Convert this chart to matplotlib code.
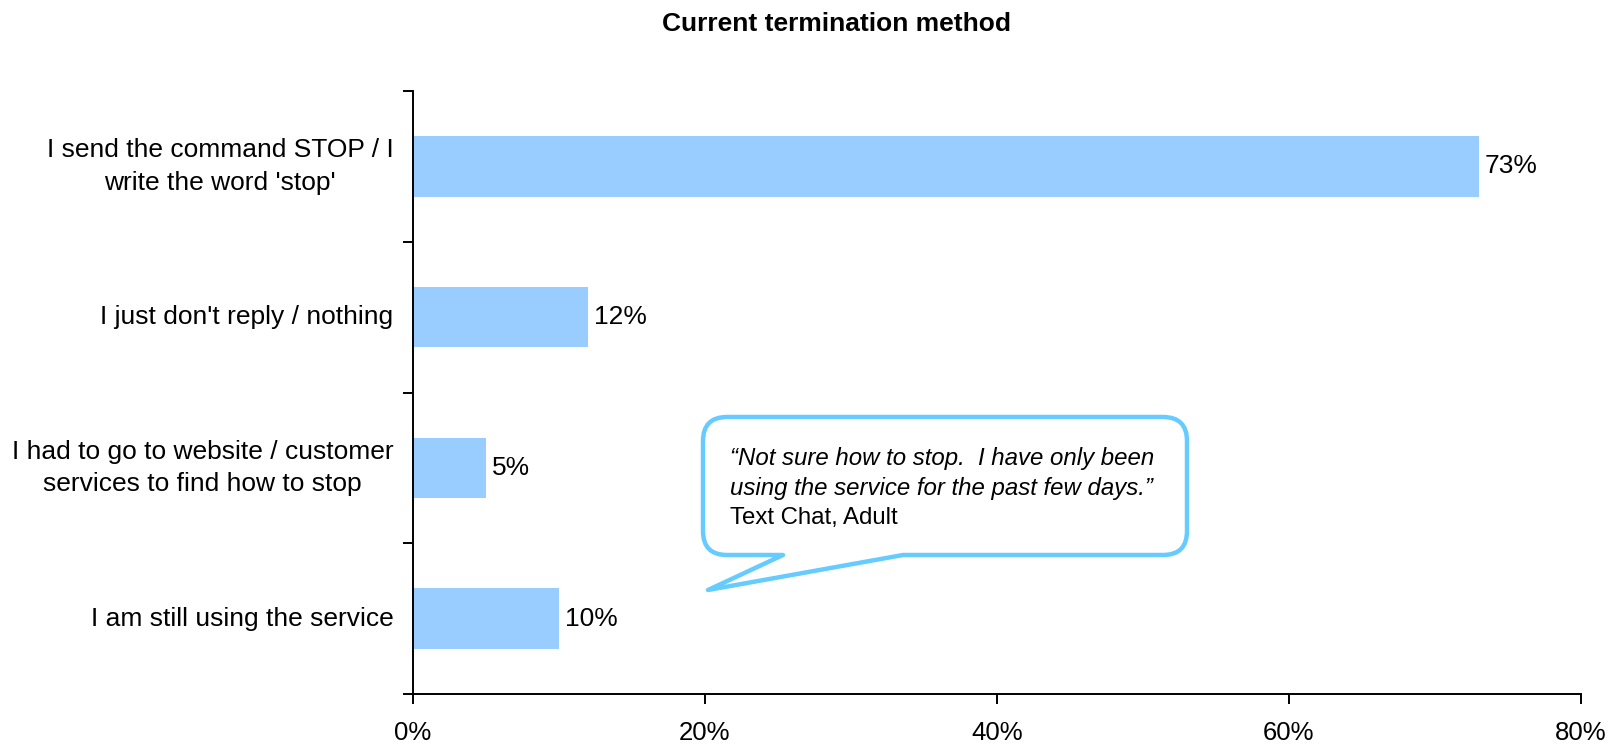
import matplotlib
matplotlib.use("Agg")
import matplotlib.pyplot as plt
from matplotlib.path import Path
from matplotlib.patches import PathPatch
from matplotlib.ticker import FixedLocator, PercentFormatter

plt.rcParams['font.family'] = ['Liberation Sans', 'DejaVu Sans']

title = "Current termination method"
categories = [
    "I send the command STOP / I\nwrite the word 'stop'",
    "I just don't reply / nothing",
    "I had to go to website / customer\nservices to find how to stop",
    "I am still using the service",
]
values = [0.73, 0.12, 0.05, 0.10]
value_labels = ["73%", "12%", "5%", "10%"]
x_ticks = [0.0, 0.2, 0.4, 0.6, 0.8]
quote_lines = ["\u201cNot sure how to stop.  I have only been",
               "using the service for the past few days.\u201d"]
quote_source = "Text Chat, Adult"

W, H = 1609, 745
fig = plt.figure(figsize=(W / 100, H / 100), dpi=100)
ax = fig.add_axes([413 / W, 1 - 694 / H, (1581 - 413) / W, (694 - 91) / H])

n = len(categories)
ypos = list(range(n))
ax.barh(ypos, values, height=0.4, color='#99CCFF', edgecolor='none', zorder=2)
ax.set_ylim(n - 0.5, -0.5)
ax.set_xlim(0, 0.8)

for y, v, lab in zip(ypos, values, value_labels):
    ax.annotate(lab, (v, y), xytext=(4, 0), textcoords='offset points',
                va='center', ha='left', fontsize=19)

# y ticks at category boundaries, labels at centres
ax.yaxis.set_major_locator(FixedLocator([i - 0.5 for i in range(n + 1)]))
ax.set_yticklabels([])
ax.yaxis.set_minor_locator(FixedLocator(ypos))
ax.set_yticklabels(categories, minor=True, fontsize=19, multialignment='center',
                   linespacing=1.45)
for lbl in ax.get_yticklabels(minor=True):
    lbl.set_verticalalignment('center')
ax.tick_params(axis='y', which='minor', length=0, pad=14)
ax.tick_params(axis='y', which='major', length=7, width=1.4, direction='out')

ax.xaxis.set_major_locator(FixedLocator(x_ticks))
ax.xaxis.set_major_formatter(PercentFormatter(1.0, decimals=0))
ax.tick_params(axis='x', length=7, width=1.4, direction='out', pad=12.5, labelsize=18.5)

for s in ['top', 'right']:
    ax.spines[s].set_visible(False)
for s in ['left', 'bottom']:
    ax.spines[s].set_linewidth(1.4)

fig.text(836 / W, 1 - 24 / H, title, ha='center', va='center',
         fontsize=19, fontweight='bold')

# speech bubble
L, R, T, B, r = 703, 1187, 417, 555, 24
tail_l, tail_r, tip = 783, 903, (708, 590)
pts = [
    ((L + r, T), Path.MOVETO),
    ((R - r, T), Path.LINETO),
    ((R, T), Path.CURVE3), ((R, T + r), Path.CURVE3),
    ((R, B - r), Path.LINETO),
    ((R, B), Path.CURVE3), ((R - r, B), Path.CURVE3),
    ((tail_r, B), Path.LINETO),
    (tip, Path.LINETO),
    ((tail_l, B), Path.LINETO),
    ((L + r, B), Path.LINETO),
    ((L, B), Path.CURVE3), ((L, B - r), Path.CURVE3),
    ((L, T + r), Path.LINETO),
    ((L, T), Path.CURVE3), ((L + r, T), Path.CURVE3),
    ((L + r, T), Path.CLOSEPOLY),
]
verts = [(x / W, 1 - y / H) for (x, y), _ in pts]
codes = [c for _, c in pts]
bubble = PathPatch(Path(verts, codes), transform=fig.transFigure,
                   facecolor='white', edgecolor='#66CCFF', linewidth=3.2,
                   joinstyle='round', zorder=5)
fig.add_artist(bubble)

tx = 730
fig.text(tx / W, 1 - 458 / H, quote_lines[0], ha='left', va='center',
         fontsize=17.3, style='italic', zorder=6)
fig.text(tx / W, 1 - 488 / H, quote_lines[1], ha='left', va='center',
         fontsize=17.3, style='italic', zorder=6)
fig.text(tx / W, 1 - 518 / H, quote_source, ha='left', va='center',
         fontsize=17.3, zorder=6)

fig.savefig('out.png', dpi=100, facecolor='white')
